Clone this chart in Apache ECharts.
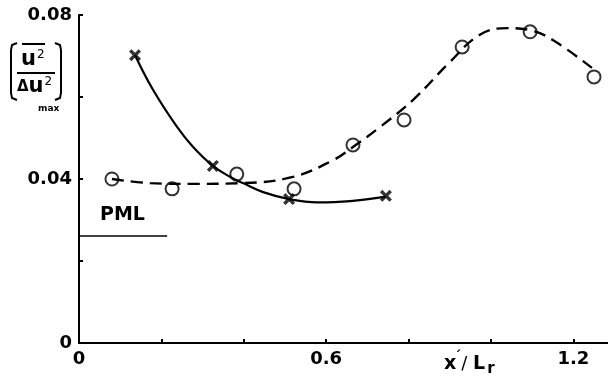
<!DOCTYPE html>
<html>
<head>
<meta charset="utf-8">
<script src="https://cdn.jsdelivr.net/npm/echarts@6/dist/echarts.min.js"></script>
<style>
  html, body { margin: 0; padding: 0; background: #fff; }
  #chart { width: 608px; height: 381px; }
</style>
</head>
<body>
<div id="chart"></div>
<script>
// values
const crossPoints = [[0.136, 0.0702], [0.325, 0.0432], [0.510, 0.0351], [0.745, 0.0359]];
const circlePoints = [
  [0.080, 0.0400], [0.226, 0.0376], [0.383, 0.0412], [0.522, 0.0376], [0.665, 0.0483],
  [0.789, 0.0544], [0.930, 0.0722], [1.095, 0.0759], [1.250, 0.0649]
];
// fitted curves as drawn in the figure
const solidCurve = [
  [0.136, 0.0702], [0.180, 0.0617], [0.238, 0.0527], [0.277, 0.0478], [0.325, 0.0432],
  [0.367, 0.0405], [0.398, 0.0390], [0.447, 0.0368], [0.510, 0.0351], [0.578, 0.0343],
  [0.658, 0.0346], [0.745, 0.0357]
];
const dashedCurve = [
  [0.080, 0.0400], [0.172, 0.0390], [0.269, 0.0388], [0.398, 0.0390], [0.519, 0.0405],
  [0.617, 0.0446], [0.665, 0.0478], [0.731, 0.0527], [0.811, 0.0593], [0.900, 0.0685],
  [0.973, 0.0752], [1.039, 0.0768], [1.095, 0.0763], [1.150, 0.0739], [1.245, 0.0671]
];
const pmlLine = [[0, 0.0261], [0.214, 0.0261]];
const xTickLabels = ['0', '0.6', '1.2'];
const yTickLabels = ['0', '0.04', '0.08'];

const font = 'DejaVu Sans';
const chart = echarts.init(document.getElementById('chart'));

const option = {
  backgroundColor: '#fff',
  animation: false,
  grid: { left: 79, right: 0, top: 15, bottom: 38 },
  xAxis: {
    type: 'value',
    min: 0,
    max: 1.284,
    interval: 0.2,
    axisLine: { lineStyle: { color: '#000', width: 2 } },
    axisTick: { inside: true, length: 4, lineStyle: { color: '#000', width: 2 } },
    splitLine: { show: false },
    axisLabel: {
      margin: 7,
      color: '#000',
      fontFamily: font,
      fontSize: 18,
      fontWeight: 'bold',
      showMaxLabel: false,
      formatter: v => {
        const s = String(Math.round(v * 10) / 10);
        return xTickLabels.includes(s) ? s : '';
      }
    }
  },
  yAxis: {
    type: 'value',
    min: 0,
    max: 0.08,
    interval: 0.02,
    axisLine: { show: true, lineStyle: { color: '#000', width: 2 } },
    axisTick: { show: true, inside: true, length: 4, lineStyle: { color: '#000', width: 2 } },
    splitLine: { show: false },
    axisLabel: {
      margin: 7,
      color: '#000',
      fontFamily: font,
      fontSize: 18,
      fontWeight: 'bold',
      formatter: v => {
        const s = v === 0 ? '0' : v.toFixed(2);
        return yTickLabels.includes(s) ? s : '';
      }
    }
  },
  series: [
    {
      type: 'line', data: solidCurve, smooth: 0.4, symbol: 'none',
      lineStyle: { color: '#000', width: 2.2 }
    },
    {
      type: 'line', data: dashedCurve, smooth: 0.4, symbol: 'none',
      lineStyle: { color: '#000', width: 2.4, type: [12, 7] }
    },
    {
      type: 'line', data: pmlLine, symbol: 'none',
      lineStyle: { color: '#000', width: 1.6 }
    },
    {
      type: 'scatter', data: crossPoints,
      symbol: 'path://M0,2L2,0L5,3L8,0L10,2L7,5L10,8L8,10L5,7L2,10L0,8L3,5Z',
      symbolSize: 12,
      itemStyle: { color: '#000' }
    },
    {
      type: 'scatter', data: circlePoints, symbol: 'circle', symbolSize: 13,
      itemStyle: { color: 'rgba(0,0,0,0)', borderColor: '#000', borderWidth: 2 }
    }
  ],
  graphic: [
    // y axis title: bracketed (u'^2 / du^2) max
    {
      type: 'polyline',
      shape: { points: [[17, 43], [12, 45], [11, 50], [11, 93], [12, 98], [17, 100]] },
      style: { stroke: '#000', lineWidth: 2, fill: null }
    },
    {
      type: 'polyline',
      shape: { points: [[55, 43], [60, 45], [61, 50], [61, 93], [60, 98], [55, 100]] },
      style: { stroke: '#000', lineWidth: 2, fill: null }
    },
    { type: 'line', shape: { x1: 22, y1: 44, x2: 45, y2: 44 }, style: { stroke: '#000', lineWidth: 2 } },
    { type: 'line', shape: { x1: 17, y1: 73, x2: 55, y2: 73 }, style: { stroke: '#000', lineWidth: 2 } },
    {
      type: 'text', x: 21, y: 49,
      style: {
        text: '{u|u}{s|2}',
        rich: {
          u: { fontFamily: font, fontSize: 21, fontWeight: 'bold', fill: '#000' },
          s: { fontFamily: font, fontSize: 12, fill: '#000', padding: [0, 0, 10, 1] }
        }
      }
    },
    {
      type: 'text', x: 17, y: 76,
      style: {
        text: '{d|Δ}{u|u}{s|2}',
        rich: {
          d: { fontFamily: font, fontSize: 15, fontWeight: 'bold', fill: '#000' },
          u: { fontFamily: font, fontSize: 21, fontWeight: 'bold', fill: '#000' },
          s: { fontFamily: font, fontSize: 12, fill: '#000', padding: [0, 0, 10, 1] }
        }
      }
    },
    {
      type: 'text', x: 38, y: 104,
      style: { text: 'max', fontFamily: font, fontSize: 9, fontWeight: 'bold', fill: '#000' }
    },
    // PML label
    {
      type: 'text', x: 100, y: 206,
      style: { text: 'PML', fontFamily: font, fontSize: 19, fontWeight: 'bold', fill: '#000' }
    },
    // x axis title: x'/ L_r
    {
      type: 'text', x: 444, y: 350,
      style: {
        text: '{x|x}{p|\u00b4}{sl|/ }{l|L}{r|r}',
        rich: {
          x: { fontFamily: font, fontSize: 19, fontWeight: 'bold', fill: '#000' },
          p: { fontFamily: font, fontSize: 14, fontWeight: 'bold', fill: '#000', padding: [0, 0, 14, -2] },
          sl: { fontFamily: font, fontSize: 18, fill: '#000' },
          l: { fontFamily: font, fontSize: 19, fontWeight: 'bold', fill: '#000' },
          r: { fontFamily: font, fontSize: 15, fontWeight: 'bold', fill: '#000', padding: [10, 0, 0, 2] }
        }
      }
    }
  ]
};

chart.setOption(option);
</script>
</body>
</html>
